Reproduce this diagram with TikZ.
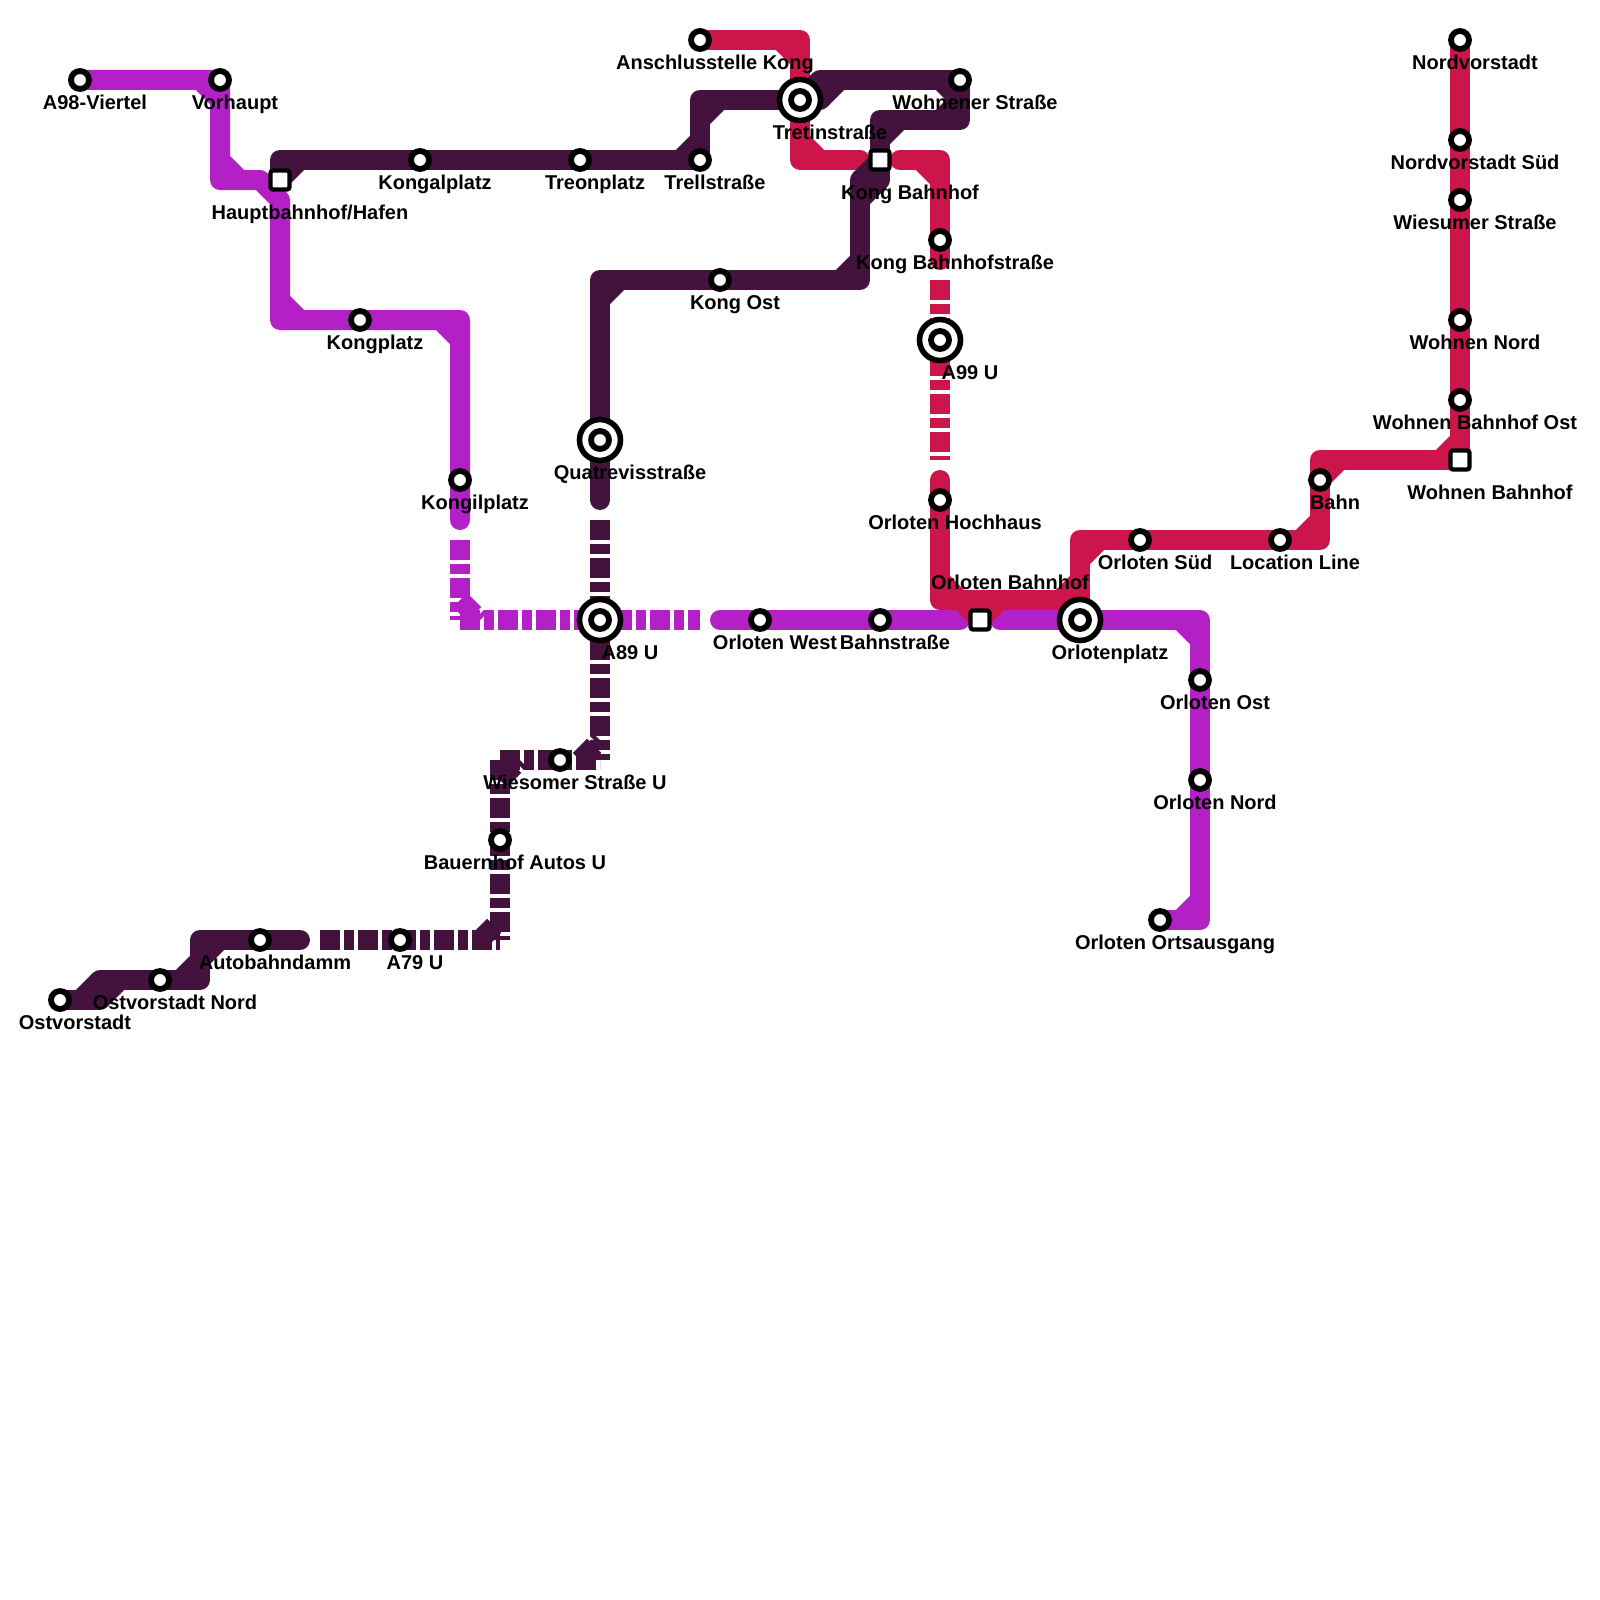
\documentclass[tikz,border=0pt]{standalone}
\usepackage{fontspec}
\setmainfont{Liberation Sans}
\usetikzlibrary{calc}
\definecolor{linepurple}{HTML}{B321C6}
\definecolor{linered}{HTML}{CC164B}
\definecolor{linedark}{HTML}{43133D}
\pgfdeclarelayer{lines}
\pgfsetlayers{lines,main}
\tikzset{
  metro/.style={line width=20pt,line join=round,line cap=round},
  cham/.style={line width=20pt,line cap=butt},
  dashes/.style={line width=20pt,line cap=butt,dash pattern=on 20pt off 4pt on 10pt off 4pt},
  smallstn/.style={circle,draw=black,fill=white,line width=5.8pt,minimum size=18pt,inner sep=0pt},
  bigstn/.style={circle,draw=black,fill=white,line width=5.6pt,minimum size=41pt,inner sep=0pt},
  squarestn/.style={rectangle,rounded corners=2.5pt,draw=black,fill=white,line width=4.3pt,minimum size=19pt,inner sep=0pt},
  lab/.style={anchor=base,inner sep=0pt,text=black,font=\fontsize{20}{24}\selectfont\bfseries},
}
\newcommand{\smallS}[4]{\node[smallstn] (#1) at (#2,#3) {}; \node[lab] (#1-l) at ($(#2,#3)+(15,29.7)$) {#4};}
\newcommand{\bigS}[4]{\node[bigstn] (#1) at (#2,#3) {}; \node[smallstn] (#1-i) at (#2,#3) {}; \node[lab] (#1-l) at ($(#2,#3)+(30,39.7)$) {#4};}
\newcommand{\squareS}[4]{\node[squarestn] (#1) at (#2,#3) {}; \node[lab] (#1-l) at ($(#2,#3)+(30,39.7)$) {#4};}
\newcommand{\chamf}[4]{\draw[#1] ($(#3.center)!20pt!(#2.center)$) -- ($(#3.center)!20pt!(#4.center)$);}
\begin{document}
\begin{tikzpicture}[x=1pt,y=-1pt]
\useasboundingbox (0,0) rectangle (1600,1600);
% stations
\smallS{Aviertel}{80}{80}{A98-Viertel}
\smallS{Vorhaupt}{220}{80}{Vorhaupt}
\squareS{Hbf}{280}{180}{Hauptbahnhof/Hafen}
\smallS{Kongplatz}{360}{320}{Kongplatz}
\smallS{Kongilplatz}{460}{480}{Kongilplatz}
\bigS{Aneun}{600}{620}{A89 U}
\smallS{OrlWest}{760}{620}{Orloten West}
\smallS{Bahnstr}{880}{620}{Bahnstraße}
\node[squarestn] (OrlBf) at (980,620) {};
\node[lab] (OrlBf-l) at ($(980,620)+(30,-30.3)$) {Orloten Bahnhof};
\bigS{Orlplatz}{1080}{620}{Orlotenplatz}
\smallS{OrlOst}{1200}{680}{Orloten Ost}
\smallS{OrlNord}{1200}{780}{Orloten Nord}
\smallS{OrlAus}{1160}{920}{Orloten Ortsausgang}
\smallS{Ostv}{60}{1000}{Ostvorstadt}
\smallS{OstvN}{160}{980}{Ostvorstadt Nord}
\smallS{Autob}{260}{940}{Autobahndamm}
\smallS{Asieben}{400}{940}{A79 U}
\smallS{Bauern}{500}{840}{Bauernhof Autos U}
\smallS{Wiesomer}{560}{760}{Wiesomer Straße U}
\bigS{Quatre}{600}{440}{Quatrevisstraße}
\smallS{KongOst}{720}{280}{Kong Ost}
\squareS{KongBf}{880}{160}{Kong Bahnhof}
\smallS{Wohnener}{960}{80}{Wohnener Straße}
\bigS{Tretin}{800}{100}{Tretinstraße}
\smallS{Trell}{700}{160}{Trellstraße}
\smallS{Treon}{580}{160}{Treonplatz}
\smallS{Kongal}{420}{160}{Kongalplatz}
\smallS{Anschl}{700}{40}{Anschlusstelle Kong}
\smallS{KongBfs}{940}{240}{Kong Bahnhofstraße}
\bigS{Aneunneun}{940}{340}{A99 U}
\smallS{Hochhaus}{940}{500}{Orloten Hochhaus}
\smallS{OrlSued}{1140}{540}{Orloten Süd}
\smallS{Location}{1280}{540}{Location Line}
\smallS{Bahn}{1320}{480}{Bahn}
\squareS{WBf}{1460}{460}{Wohnen Bahnhof}
\smallS{WBfOst}{1460}{400}{Wohnen Bahnhof Ost}
\smallS{WNord}{1460}{320}{Wohnen Nord}
\smallS{Wiesumer}{1460}{200}{Wiesumer Straße}
\smallS{NordS}{1460}{140}{Nordvorstadt Süd}
\smallS{Nordv}{1460}{40}{Nordvorstadt}
% bends and free ends
\coordinate (pb1) at (220,180); \coordinate (pb2) at (260,180); \coordinate (pb3) at (280,200);
\coordinate (pb4) at (280,320); \coordinate (pb5) at (460,320); \coordinate (pe1) at (460,520);
\coordinate (pd1) at (460,540); \coordinate (pc) at (460,620); \coordinate (pd2) at (700,620);
\coordinate (ps2) at (720,620); \coordinate (pe2) at (960,620); \coordinate (ps3) at (1000,620);
\coordinate (pb6) at (1200,620); \coordinate (pb7) at (1200,920);
\coordinate (rb1) at (800,40); \coordinate (rb2) at (800,160); \coordinate (re1) at (860,160);
\coordinate (rs2) at (900,160); \coordinate (rb3) at (940,160); \coordinate (re2) at (940,260);
\coordinate (rd1) at (940,280); \coordinate (rd2) at (940,460); \coordinate (rs3) at (940,480);
\coordinate (rb4) at (940,600); \coordinate (rb5) at (1080,600); \coordinate (rb6) at (1080,540);
\coordinate (rb7) at (1320,540); \coordinate (rb8) at (1320,460);
\coordinate (rv1) at (960,600); \coordinate (rv2) at (1000,600);
\coordinate (db1) at (100,1000); \coordinate (db2) at (100,980); \coordinate (db3) at (200,980);
\coordinate (db4) at (200,940); \coordinate (de1) at (300,940); \coordinate (dd1) at (320,940);
\coordinate (dc1) at (500,940); \coordinate (dc2) at (500,760); \coordinate (dc3) at (600,760);
\coordinate (dd2) at (600,640); \coordinate (dd3) at (600,520); \coordinate (de2) at (600,500);
\coordinate (db5) at (600,280); \coordinate (db6) at (860,280); \coordinate (db7) at (860,180);
\coordinate (db8) at (880,180); \coordinate (db9) at (880,120); \coordinate (db10) at (960,120);
\coordinate (db11) at (820,80); \coordinate (db12) at (820,100); \coordinate (db13) at (700,100);
\coordinate (db14) at (280,160);
\begin{pgfonlayer}{lines}
\fill[white] (0,0) rectangle (1600,1600);
% purple line
\tikzset{pl/.style={metro,draw=linepurple},pc/.style={cham,draw=linepurple},pd/.style={dashes,draw=linepurple}}
\draw[pl] (Aviertel.center) -- (Vorhaupt.center) -- (pb1) -- (pb2) -- (pb3) -- (pb4) -- (Kongplatz.center) -- (pb5) -- (Kongilplatz.center) -- (pe1);
\chamf{pc}{Aviertel}{Vorhaupt}{pb1}
\chamf{pc}{Vorhaupt}{pb1}{pb2}
\chamf{pc}{pb3}{pb4}{Kongplatz}
\chamf{pc}{Kongplatz}{pb5}{Kongilplatz}
\draw[pd] (pd1) -- (pc);
\draw[pd] (pc) -- (Aneun.center) -- (pd2);
\chamf{pd}{pd1}{pc}{pd2}
\draw[pl] (ps2) -- (OrlWest.center) -- (Bahnstr.center) -- (pe2);
\draw[pl] (ps3) -- (Orlplatz.center) -- (pb6) -- (OrlOst.center) -- (OrlNord.center) -- (pb7) -- (OrlAus.center);
\chamf{pc}{Orlplatz}{pb6}{OrlOst}
\chamf{pc}{OrlNord}{pb7}{OrlAus}
% red line
\tikzset{rl/.style={metro,draw=linered},rc/.style={cham,draw=linered},rd/.style={dashes,draw=linered}}
\draw[rl] (Anschl.center) -- (rb1) -- (Tretin.center) -- (rb2) -- (re1);
\chamf{rc}{Anschl}{rb1}{Tretin}
\chamf{rc}{Tretin}{rb2}{re1}
\draw[rl] (rs2) -- (rb3) -- (KongBfs.center) -- (re2);
\chamf{rc}{rs2}{rb3}{KongBfs}
\draw[rd] (rd1) -- (Aneunneun.center) -- (rd2);
\draw[rl] (rs3) -- (Hochhaus.center) -- (rb4) -- (rb5) -- (rb6) -- (OrlSued.center) -- (Location.center) -- (rb7) -- (Bahn.center) -- (rb8) -- (WBf.center) -- (WBfOst.center) -- (WNord.center) -- (Wiesumer.center) -- (NordS.center) -- (Nordv.center);
\chamf{rc}{Hochhaus}{rb4}{rb5}
\chamf{rc}{rb4}{rb5}{rb6}
\chamf{rc}{rb5}{rb6}{OrlSued}
\chamf{rc}{Location}{rb7}{Bahn}
\chamf{rc}{Bahn}{rb8}{WBf}
\chamf{rc}{rb8}{WBf}{WBfOst}
\draw[rl] (rv1) -- (OrlBf.center) -- (rv2);
% dark line
\tikzset{dl/.style={metro,draw=linedark},dc/.style={cham,draw=linedark},dk/.style={dashes,draw=linedark}}
\draw[dl] (Ostv.center) -- (db1) -- (db2) -- (OstvN.center) -- (db3) -- (db4) -- (Autob.center) -- (de1);
\chamf{dc}{Ostv}{db1}{db2}
\chamf{dc}{db1}{db2}{OstvN}
\chamf{dc}{OstvN}{db3}{db4}
\chamf{dc}{db3}{db4}{Autob}
\draw[dk] (dd1) -- (Asieben.center) -- (dc1);
\chamf{dk}{dd1}{dc1}{dc2}
\draw[dk] (dc2) -- (Bauern.center) -- (dc1);
\chamf{dk}{dc1}{dc2}{dc3}
\draw[dk] (dc2) -- (Wiesomer.center) -- (dc3);
\chamf{dk}{dc2}{dc3}{dd2}
\draw[dk] (dd2) -- (dc3);
\draw[dk] (dd3) -- (Aneun.center);
\draw[dl] (de2) -- (Quatre.center) -- (db5) -- (KongOst.center) -- (db6) -- (db7) -- (db8) -- (KongBf.center) -- (db9) -- (db10) -- (Wohnener.center) -- (db11) -- (db12) -- (Tretin.center) -- (db13) -- (Trell.center) -- (Treon.center) -- (Kongal.center) -- (db14) -- (Hbf.center);
\chamf{dc}{Quatre}{db5}{KongOst}
\chamf{dc}{KongOst}{db6}{db7}
\chamf{dc}{db6}{db7}{db8}
\chamf{dc}{db7}{db8}{KongBf}
\chamf{dc}{KongBf}{db9}{db10}
\chamf{dc}{db9}{db10}{Wohnener}
\chamf{dc}{db11}{Wohnener}{db10}
\chamf{dc}{db12}{db11}{Wohnener}
\chamf{dc}{Tretin}{db12}{db11}
\chamf{dc}{Trell}{db13}{Tretin}
\chamf{dc}{Treon}{Trell}{db13}
\chamf{dc}{Hbf}{db14}{Kongal}
\end{pgfonlayer}
\end{tikzpicture}
\end{document}
